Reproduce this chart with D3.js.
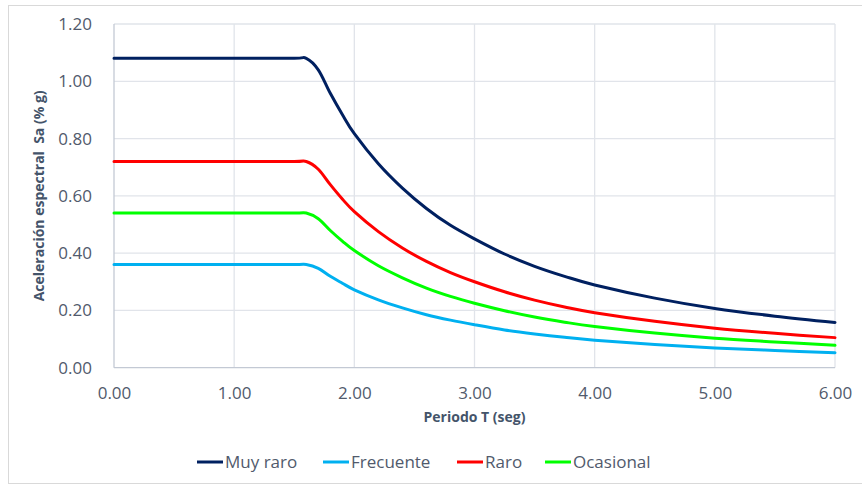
<!DOCTYPE html>
<html>
<head>
<meta charset="utf-8">
<script src="https://cdn.jsdelivr.net/npm/d3@7/dist/d3.min.js"></script>
<style>
  html, body { margin: 0; padding: 0; background: #ffffff; }
  svg { display: block; font-family: "Open Sans", "Noto Sans", sans-serif; }
</style>
</head>
<body>
<svg id="chart" width="862" height="485"></svg>
<script>
// Periods (s) at which the spectra are tabulated
const periods = [0, 0.5, 1.0, 1.5, 1.6, 1.7, 1.8, 1.9, 2.0, 2.2, 2.4, 2.6, 2.8, 3.0, 3.25, 3.5, 3.75, 4.0, 4.5, 5.0, 5.5, 6.0];

// Spectral acceleration Sa (% g) for each hazard level
const muyRaro   = [1.08, 1.08, 1.08, 1.08, 1.08, 1.04, 0.958, 0.884, 0.817, 0.712, 0.627, 0.556, 0.497, 0.450, 0.397, 0.354, 0.319, 0.289, 0.243, 0.207, 0.180, 0.158];
const frecuente = [0.36, 0.36, 0.36, 0.36, 0.36, 0.347, 0.319, 0.295, 0.272, 0.237, 0.209, 0.185, 0.166, 0.150, 0.132, 0.118, 0.106, 0.096, 0.081, 0.069, 0.060, 0.052];
const raro      = [0.72, 0.72, 0.72, 0.72, 0.72, 0.693, 0.639, 0.589, 0.545, 0.475, 0.418, 0.371, 0.332, 0.300, 0.265, 0.236, 0.212, 0.192, 0.162, 0.138, 0.120, 0.105];
const ocasional = [0.54, 0.54, 0.54, 0.54, 0.54, 0.520, 0.479, 0.442, 0.409, 0.356, 0.314, 0.278, 0.249, 0.225, 0.199, 0.177, 0.159, 0.144, 0.121, 0.103, 0.090, 0.078];

const seriesNames  = ["Muy raro", "Frecuente", "Raro", "Ocasional"];
const seriesValues = [muyRaro, frecuente, raro, ocasional];
const seriesColors = ["#002060", "#00B0F0", "#FF0000", "#00FF00"];

const xTicks = [0, 1, 2, 3, 4, 5, 6];
const yTicks = [0, 0.2, 0.4, 0.6, 0.8, 1.0, 1.2];

const yTitle = "Aceleración espectral  Sa (% g)";
const xTitle = "Periodo T (seg)";

const svg = d3.select("#chart");
const W = 862, H = 485;
const plot = { left: 114, right: 835, top: 24, bottom: 367.7 };

const x = d3.scaleLinear().domain([0, 6]).range([plot.left, plot.right]);
const y = d3.scaleLinear().domain([0, 1.2]).range([plot.bottom, plot.top]);

// Chart frame
svg.append("rect")
  .attr("x", 8.5).attr("y", 5.5)
  .attr("width", W + 10).attr("height", 478)
  .attr("fill", "#ffffff").attr("stroke", "#d9d9d9").attr("stroke-width", 1);

// Gridlines
const grid = svg.append("g");
grid.selectAll("line.h").data(yTicks.slice(1)).join("line")
  .attr("x1", plot.left).attr("x2", plot.right)
  .attr("y1", d => y(d)).attr("y2", d => y(d))
  .attr("stroke", "#e1e4ea").attr("stroke-width", 1.3);
grid.selectAll("line.v").data(xTicks.slice(1)).join("line")
  .attr("y1", plot.top).attr("y2", plot.bottom)
  .attr("x1", d => x(d)).attr("x2", d => x(d))
  .attr("stroke", "#e1e4ea").attr("stroke-width", 1.3);

// Axis lines
svg.append("line")
  .attr("x1", plot.left).attr("x2", plot.right)
  .attr("y1", plot.bottom).attr("y2", plot.bottom)
  .attr("stroke", "#c3c9d4").attr("stroke-width", 1.3);
svg.append("line")
  .attr("x1", plot.left).attr("x2", plot.left)
  .attr("y1", plot.top).attr("y2", plot.bottom)
  .attr("stroke", "#c3c9d4").attr("stroke-width", 1.3);

// Tick labels via d3 axes (no tick marks or domain line)
const fmt = d3.format(".2f");
const yAxis = svg.append("g")
  .attr("transform", `translate(${plot.left - 22},0)`)
  .call(d3.axisLeft(y).tickValues(yTicks).tickFormat(fmt).tickSize(0).tickPadding(0));
const xAxis = svg.append("g")
  .attr("transform", `translate(0,${plot.bottom + 19})`)
  .call(d3.axisBottom(x).tickValues(xTicks).tickFormat(fmt).tickSize(0).tickPadding(0));
[yAxis, xAxis].forEach(g => {
  g.select(".domain").remove();
  g.selectAll("text")
    .attr("font-family", "'Open Sans', sans-serif")
    .attr("font-size", 17)
    .attr("fill", "#515a6c");
});
xAxis.selectAll("text").attr("dy", "0.71em");

// Axis titles
svg.append("text")
  .attr("transform", `translate(44,${(plot.top + plot.bottom) / 2}) rotate(-90)`)
  .attr("text-anchor", "middle")
  .attr("font-size", 14).attr("font-weight", "bold")
  .attr("fill", "#44546a")
  .style("white-space", "pre")
  .text(yTitle);
svg.append("text")
  .attr("x", (plot.left + plot.right) / 2).attr("y", 422)
  .attr("text-anchor", "middle")
  .attr("font-size", 14).attr("font-weight", "bold")
  .attr("fill", "#44546a")
  .text(xTitle);

// Spectra
const line = d3.line()
  .x((d, i) => x(periods[i]))
  .y(d => y(d))
  .curve(d3.curveCatmullRom.alpha(0));

svg.append("g").selectAll("path").data(seriesValues).join("path")
  .attr("d", d => line(d))
  .attr("fill", "none")
  .attr("stroke", (d, i) => seriesColors[i])
  .attr("stroke-width", 3)
  .attr("stroke-linejoin", "round")
  .attr("stroke-linecap", "round");

// Legend
const legendX = [197, 323, 457, 545];
const legend = svg.append("g");
seriesNames.forEach((name, i) => {
  const g = legend.append("g").attr("transform", `translate(${legendX[i]},462)`);
  g.append("line").attr("x1", 0).attr("x2", 26).attr("y1", 0).attr("y2", 0)
    .attr("stroke", seriesColors[i]).attr("stroke-width", 3);
  g.append("text").attr("x", 28).attr("y", 0).attr("dy", "0.35em")
    .attr("font-size", 17).attr("fill", "#515a6c")
    .text(name);
});
</script>
</body>
</html>
